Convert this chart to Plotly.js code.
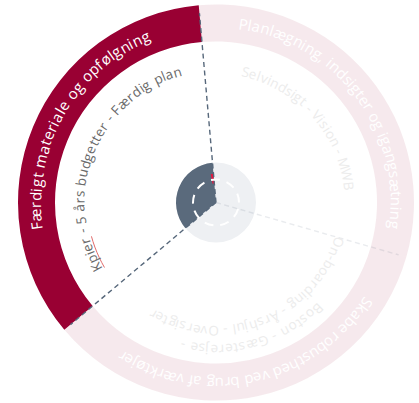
<!DOCTYPE html>
<html><head><meta charset="utf-8">
<script src="https://cdn.plot.ly/plotly-3.0.1.min.js"></script>
<style>html,body{margin:0;padding:0;background:#fff;}#chart{width:419px;height:403px;}</style>
</head><body><div id="chart"></div>
<script>
// ---- data ----
const segmentNames = ['Færdigt materiale og opfølgning', 'Planlægning, indsigter og igangsætning', 'Skabe robusthed ved brug af værktøjer'];
const segmentStart = [230, 355, 106];   // degrees, clockwise from top
const segmentEnd = [355, 466, 230];
const segmentDetails = [
  ['Kpier - 5 års budgetter - Færdig plan'],
  ['Selvindsigt - Vision - MWB'],
  ['Boston - Gæsterejse -', 'On-boarding - Årshjul - Oversigter']
];
const activeSegment = 0;
const progressAngle = [352];

// ---- layout config (text paths: first/last glyph angle and radius) ----
const W = 419, H = 403;
const cxPx = 216, cyPx = 202.5, Rpx = 200;
const ringInner = 161, ringOuter = 198;
const hubRadius = 40;
const ringTextRadius = 181;
const ringTextFrom = [262.5, 8.7, 123.5];
const ringTextTo = [337, 97, 211.5];
const ringTextMax = 15;
const detailRadius = [[136.5], [133.5], [147, 128.5]];
const detailFrom = [[241.5], [12.8], [136, 108]];
const detailTo = [[343.6], [83], [193, 209.7]];
const detailMax = 13.5;
const activeColor = '#990033';
const fadedRing = 'rgba(153,0,51,0.085)';
const slate = '#56677a';
const fadedLine = 'rgba(86,103,122,0.13)';
const detailActiveColor = '#6a6a6a';
const detailFadedColor = '#ececec';
const FONT = 'Open Sans';

const canvas = document.createElement('canvas');
const ctx = canvas.getContext('2d');
function norm(a) { return ((a + 180) % 360 + 360) % 360 - 180; }
function arcText(str, a0, a1, radius, maxSize, color, anns) {
  const base = 20;
  ctx.font = base + 'px "' + FONT + '"';
  const chars = [...str];
  const w = chars.map(ch => ctx.measureText(ch).width);
  const total = w.reduce((a, b) => a + b, 0);
  const span = total - w[0] / 2 - w[w.length - 1] / 2;
  const target = (a1 - a0) * Math.PI / 180 * radius;
  const k = Math.min(target / span, maxSize / base);
  const size = base * k;
  const extra = (target - span * k) / (chars.length - 1);
  let pos = -w[0] / 2 * k;
  const mids = [];
  chars.forEach((ch, i) => {
    const mid = pos + w[i] * k / 2;
    pos += w[i] * k + extra;
    const ang = a0 + (mid / radius) * 180 / Math.PI;
    mids.push(ang);
    if (ch === ' ') return;
    const rad = ang * Math.PI / 180;
    anns.push({
      xref: 'paper', yref: 'paper',
      x: (cxPx + radius * Math.sin(rad)) / W,
      y: (H - cyPx + radius * Math.cos(rad)) / H,
      text: ch, showarrow: false, textangle: norm(ang),
      xanchor: 'center', yanchor: 'middle', borderpad: 0,
      font: {family: FONT, size: size, color: color}
    });
  });
  return {mids, w: w.map(x => x * k), size};
}

const centers = segmentStart.map((s, i) => (s + segmentEnd[i]) / 2);
const widths = segmentStart.map((s, i) => segmentEnd[i] - s);
const ringColors = segmentNames.map((_, i) => i === activeSegment ? activeColor : fadedRing);

const traces = [];
segmentStart.forEach((s, i) => {
  const prev = (i + segmentStart.length - 1) % segmentStart.length;
  const touchesActive = (i === activeSegment || prev === activeSegment);
  traces.push({
    type: 'scatterpolar', mode: 'lines', r: [0, 190], theta: [s, s],
    line: {color: touchesActive ? slate : fadedLine, width: 1.4, dash: '5px,3.5px'},
    hoverinfo: 'skip', showlegend: false
  });
});
traces.push({
  type: 'barpolar', r: segmentNames.map(() => ringOuter - ringInner), base: segmentNames.map(() => ringInner),
  theta: centers, width: widths, marker: {color: ringColors, line: {width: 0}},
  hoverinfo: 'skip', showlegend: false
});
traces.push({
  type: 'barpolar', r: [hubRadius], theta: [0], width: [360],
  marker: {color: '#eef0f3', line: {width: 0}}, hoverinfo: 'skip', showlegend: false
});
traces.push({
  type: 'barpolar', r: [hubRadius], theta: [centers[activeSegment]], width: [widths[activeSegment]],
  marker: {color: '#5a6a7c', line: {width: 0}}, hoverinfo: 'skip', showlegend: false
});
traces.push({
  type: 'barpolar', r: [10], base: [19], theta: progressAngle, width: [5],
  marker: {color: '#e4183f', line: {width: 0}}, hoverinfo: 'skip', showlegend: false
});

const anns = [];
segmentNames.forEach((name, i) => {
  arcText(name, ringTextFrom[i], ringTextTo[i], ringTextRadius, ringTextMax, '#ffffff', anns);
  segmentDetails[i].forEach((line, j) => {
    const r = detailRadius[i][j];
    const info = arcText(line, detailFrom[i][j], detailTo[i][j], r, detailMax,
      i === activeSegment ? detailActiveColor : detailFadedColor, anns);
    if (i === activeSegment && j === 0) {
      const n = [...line.split(' ')[0]].length;
      const a0 = info.mids[0] - info.w[0] / 2 / r * 180 / Math.PI;
      const a1 = info.mids[n - 1] + info.w[n - 1] / 2 / r * 180 / Math.PI;
      const th = [], rr = [];
      for (let k = 0; k <= 6; k++) { th.push(a0 + (a1 - a0) * k / 6); rr.push(r - info.size * 0.55); }
      traces.push({type: 'scatterpolar', mode: 'lines', r: rr, theta: th,
        line: {color: '#e06a6a', width: 1}, hoverinfo: 'skip', showlegend: false});
    }
  });
});

traces.push({type: 'scatterpolar', subplot: 'polar2', mode: 'markers', r: [0], theta: [0],
  marker: {opacity: 0}, hoverinfo: 'skip', showlegend: false});

const dom = {x: [(cxPx - Rpx) / W, (cxPx + Rpx) / W], y: [(H - cyPx - Rpx) / H, (H - cyPx + Rpx) / H]};
const hiddenAngular = {rotation: 90, direction: 'clockwise', showgrid: false, showline: false, showticklabels: false, ticks: ''};
const layout = {
  width: W, height: H, margin: {l: 0, r: 0, t: 0, b: 0},
  paper_bgcolor: '#ffffff', showlegend: false,
  polar: {
    domain: dom, bgcolor: 'rgba(0,0,0,0)', bargap: 0,
    radialaxis: {range: [0, Rpx], visible: false},
    angularaxis: Object.assign({}, hiddenAngular)
  },
  polar2: {
    domain: dom, bgcolor: 'rgba(0,0,0,0)',
    radialaxis: {range: [0, Rpx], tickmode: 'array', tickvals: [23], showticklabels: false, ticks: '',
      showline: false, showgrid: true, gridcolor: '#ffffff', gridwidth: 2, griddash: '9px,7px'},
    angularaxis: Object.assign({}, hiddenAngular)
  },
  annotations: anns
};
Plotly.newPlot('chart', traces, layout, {staticPlot: true, displayModeBar: false});
</script>
</body></html>
